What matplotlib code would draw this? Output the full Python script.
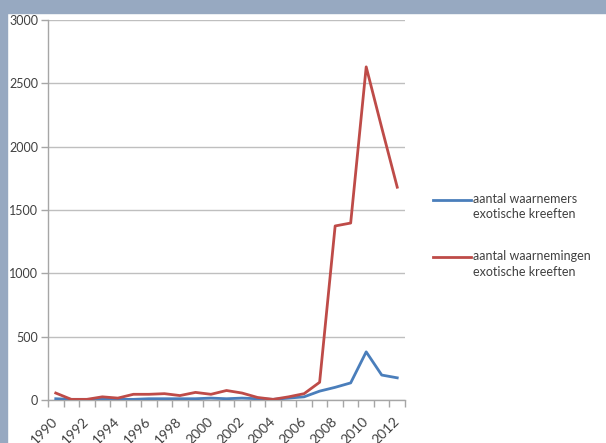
import matplotlib.pyplot as plt
from matplotlib.lines import Line2D
from matplotlib.patches import Rectangle

plt.rcParams['font.family'] = ['Lato', 'DejaVu Sans']

years = list(range(1990, 2013))
waarnemers = [10, 5, 5, 5, 5, 5, 10, 10, 10, 10, 15, 10, 15, 10, 5, 15, 25, 70, 100, 135, 380, 197, 175]
waarnemingen = [55, 5, 5, 25, 15, 45, 45, 50, 35, 60, 45, 75, 55, 20, 5, 25, 50, 140, 1374, 1397, 2630, 2150, 1680]
labels = ['aantal waarnemers\nexotische kreeften', 'aantal waarnemingen\nexotische kreeften']
colors = ['#4a7ebb', '#be4b48']

W, H = 606, 443
fig = plt.figure(figsize=(W / 100, H / 100), dpi=100)
fig.patch.set_facecolor('white')

# slide-style frame along the top and left edges
band = '#97a9c1'
fig.patches.append(Rectangle((0, 1 - 13 / H), 1, 13 / H, transform=fig.transFigure,
                             color=band, zorder=0))
fig.patches.append(Rectangle((0, 0), 7 / W, 1, transform=fig.transFigure,
                             color=band, zorder=0))

ax = fig.add_axes([48 / W, 1 - 400 / H, 357 / W, 380 / H])
x = list(range(len(years)))
ax.plot(x, waarnemers, color=colors[0], lw=2.0, zorder=3)
ax.plot(x, waarnemingen, color=colors[1], lw=2.0, zorder=3)

ax.set_xlim(-0.5, len(years) - 0.5)
ax.set_ylim(0, 3000)
ax.set_yticks(range(0, 3001, 500))
ax.yaxis.grid(True, color='#bfbfbf', lw=1.0)
ax.set_axisbelow(True)

ax.set_xticks(x[::2])
ax.set_xticklabels([str(y) for y in years[::2]], rotation=45, ha='right',
                   va='center', rotation_mode='anchor')
ax.set_xticks([i - 0.5 for i in range(len(years) + 1)], minor=True)
ax.tick_params(axis='x', which='major', length=0, pad=14, labelsize=10, labelcolor='#404040')
ax.tick_params(axis='x', which='minor', length=5, color='#a6a6a6', width=1)
ax.tick_params(axis='y', length=5, color='#a6a6a6', width=1, labelsize=9,
               labelcolor='#404040', pad=2)

for side in ['top', 'right']:
    ax.spines[side].set_visible(False)
for side in ['left', 'bottom']:
    ax.spines[side].set_color('#a6a6a6')
    ax.spines[side].set_linewidth(1)

# legend with the line next to the first text line
for i, (lab, c) in enumerate(zip(labels, colors)):
    yl = 1 - (200 + 57 * i) / H
    fig.add_artist(Line2D([433 / W, 471 / W], [yl, yl], color=c, lw=2.0,
                          transform=fig.transFigure))
    fig.text(473 / W, yl + 7 / H, lab, fontsize=9, color='#404040', va='top',
             ha='left', linespacing=1.35)

fig.savefig('out.png', dpi=100)
